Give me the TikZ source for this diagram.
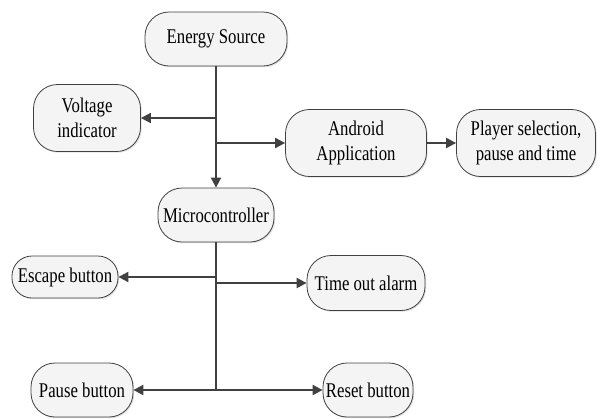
\documentclass[tikz,border=0pt]{standalone}
\usepackage{fontspec}
\setmainfont{Liberation Serif}[FakeStretch=0.8]
\usetikzlibrary{arrows.meta,shadows}
\definecolor{boxfill}{HTML}{F4F4F4}
\definecolor{linec}{HTML}{404040}
\tikzset{
  blk/.style={draw=black!75, line width=0.8bp, fill=boxfill, rounded corners=24bp,
    inner sep=0pt, align=center, font=\fontsize{21}{25}\selectfont,
    drop shadow={opacity=0.25, shadow xshift=1.2bp, shadow yshift=-1.2bp}},
  conn/.style={draw=linec, line width=2bp},
  arr/.style={conn, -{Triangle[length=10bp,width=10bp]}}
}
\begin{document}
\begin{tikzpicture}[x=1bp,y=-1bp]
\useasboundingbox (0,0) rectangle (600,418);
\node[blk, minimum width=142bp, minimum height=54bp] (es) at (216,39) {Energy Source};
\node[blk, minimum width=107bp, minimum height=67bp] (vi) at (87,118) {Voltage\\indicator};
\node[blk, minimum width=141bp, minimum height=67bp] (aa) at (356,143) {Android\\Application};
\node[blk, minimum width=139bp, minimum height=67bp] (ps) at (526,143) {Player selection,\\pause and time};
\node[blk, minimum width=116bp, minimum height=54bp] (mc) at (216,215) {Microcontroller};
\node[blk, rounded corners=20bp, minimum width=106bp, minimum height=42bp] (eb) at (65,277) {Escape button};
\node[blk, minimum width=118bp, minimum height=55bp] (ta) at (366,283) {Time out alarm};
\node[blk, minimum width=102bp, minimum height=54bp] (pb) at (82,390) {Pause button};
\node[blk, minimum width=90bp, minimum height=54bp] (rb) at (368,390) {Reset button};
\draw[arr] (es.south) -- (mc.north);
\draw[arr] (es.south |- vi) -- (vi.east);
\draw[arr] (es.south |- aa) -- (aa.west);
\draw[arr] (aa.east) -- (ps.west);
\draw[conn] (mc.south) -- (mc.south |- pb);
\draw[arr] (mc.south |- eb) -- (eb.east);
\draw[arr] (mc.south |- ta) -- (ta.west);
\draw[arr] (mc.south |- pb) -- (pb.east);
\draw[arr] (mc.south |- rb) -- (rb.west);
\end{tikzpicture}
\end{document}
